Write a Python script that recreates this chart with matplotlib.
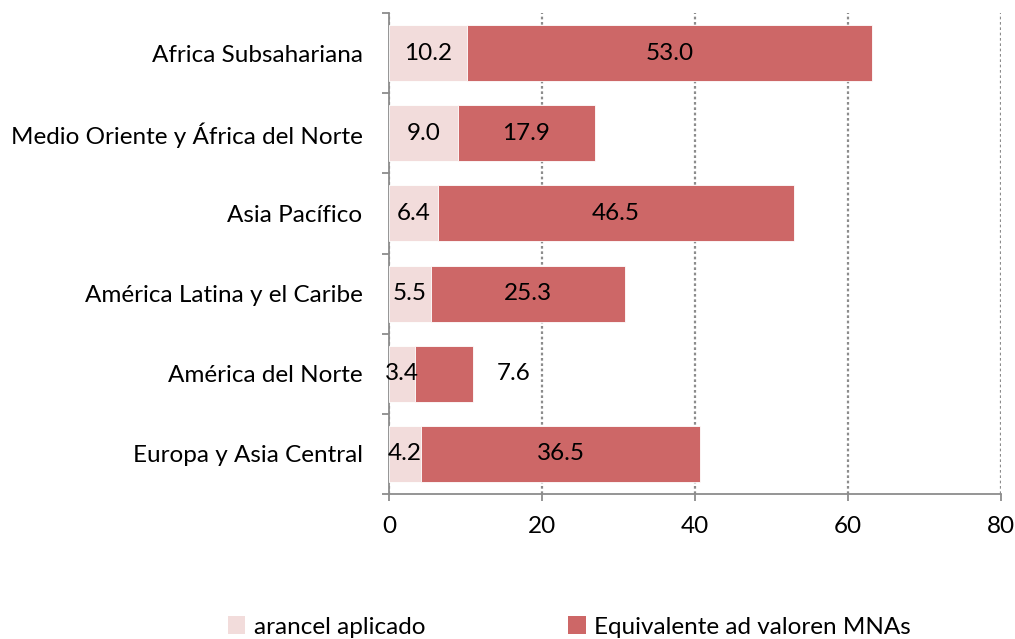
import matplotlib.pyplot as plt
import numpy as np
from matplotlib.patches import Patch

plt.rcParams['font.family'] = ['Lato', 'DejaVu Sans']

# data (top to bottom as shown)
regions = ['Africa Subsahariana', 'Medio Oriente y África del Norte', 'Asia Pacífico',
           'América Latina y el Caribe', 'América del Norte', 'Europa y Asia Central']
arancel = [10.2, 9.0, 6.4, 5.5, 3.4, 4.2]
mnas = [53.0, 17.9, 46.5, 25.3, 7.6, 36.5]

light = '#F2DCDB'
dark = '#CD6767'
axis_gray = '#8C8C8C'
fs = 17.5

fig = plt.figure(figsize=(10.15, 6.39), dpi=100)
ax = fig.add_axes([389 / 1015, 1 - 494 / 639, (1001 - 389) / 1015, (494 - 13) / 639])

# reverse so the first region is at top
y = np.arange(len(regions))[::-1]
ax.barh(y, arancel, height=0.7, color=light, edgecolor='white', linewidth=0.6, zorder=3)
ax.barh(y, mnas, left=arancel, height=0.7, color=dark, edgecolor='white', linewidth=0.6, zorder=3)

# value labels
for i in range(len(regions)):
    ax.text(arancel[i] / 2, y[i], f'{arancel[i]:.1f}', ha='center', va='center',
            fontsize=fs, zorder=4)
    if mnas[i] < 10:
        # small segment: excel put the label outside the bar
        xpos = arancel[i] + mnas[i] + 5.3
    else:
        xpos = arancel[i] + mnas[i] / 2
    ax.text(xpos, y[i], f'{mnas[i]:.1f}', ha='center', va='center', fontsize=fs, zorder=4)

ax.set_xlim(0, 80)
ax.set_ylim(-0.5, len(regions) - 0.5)
ax.set_xticks([0, 20, 40, 60, 80])
ax.set_yticks(y)
ax.set_yticklabels(regions)
ax.set_yticks(np.arange(-0.5, len(regions)), minor=True)

ax.tick_params(axis='y', which='major', length=0, pad=19, labelsize=fs)
ax.tick_params(axis='y', which='minor', length=5, width=1.3, color=axis_gray)
ax.tick_params(axis='x', length=5, width=1.3, color=axis_gray, pad=11, labelsize=fs)

for s in ['top', 'right']:
    ax.spines[s].set_visible(False)
for s in ['left', 'bottom']:
    ax.spines[s].set_color(axis_gray)
    ax.spines[s].set_linewidth(1.3)

ax.xaxis.grid(True, linestyle=(0, (1.2, 1.2)), color='#8C8C8C', linewidth=1.6, zorder=0)
ax.set_axisbelow(True)

handles = [Patch(facecolor=light, label='arancel aplicado'),
           Patch(facecolor=dark, label='Equivalente ad valoren MNAs')]
fig.legend(handles=handles, loc='center', bbox_to_anchor=(0.561, 1 - 627 / 639), ncol=2,
           frameon=False, fontsize=fs, handlelength=0.7, handleheight=0.7,
           handletextpad=0.35, columnspacing=5.9)

fig.savefig('out.png', dpi=100)
